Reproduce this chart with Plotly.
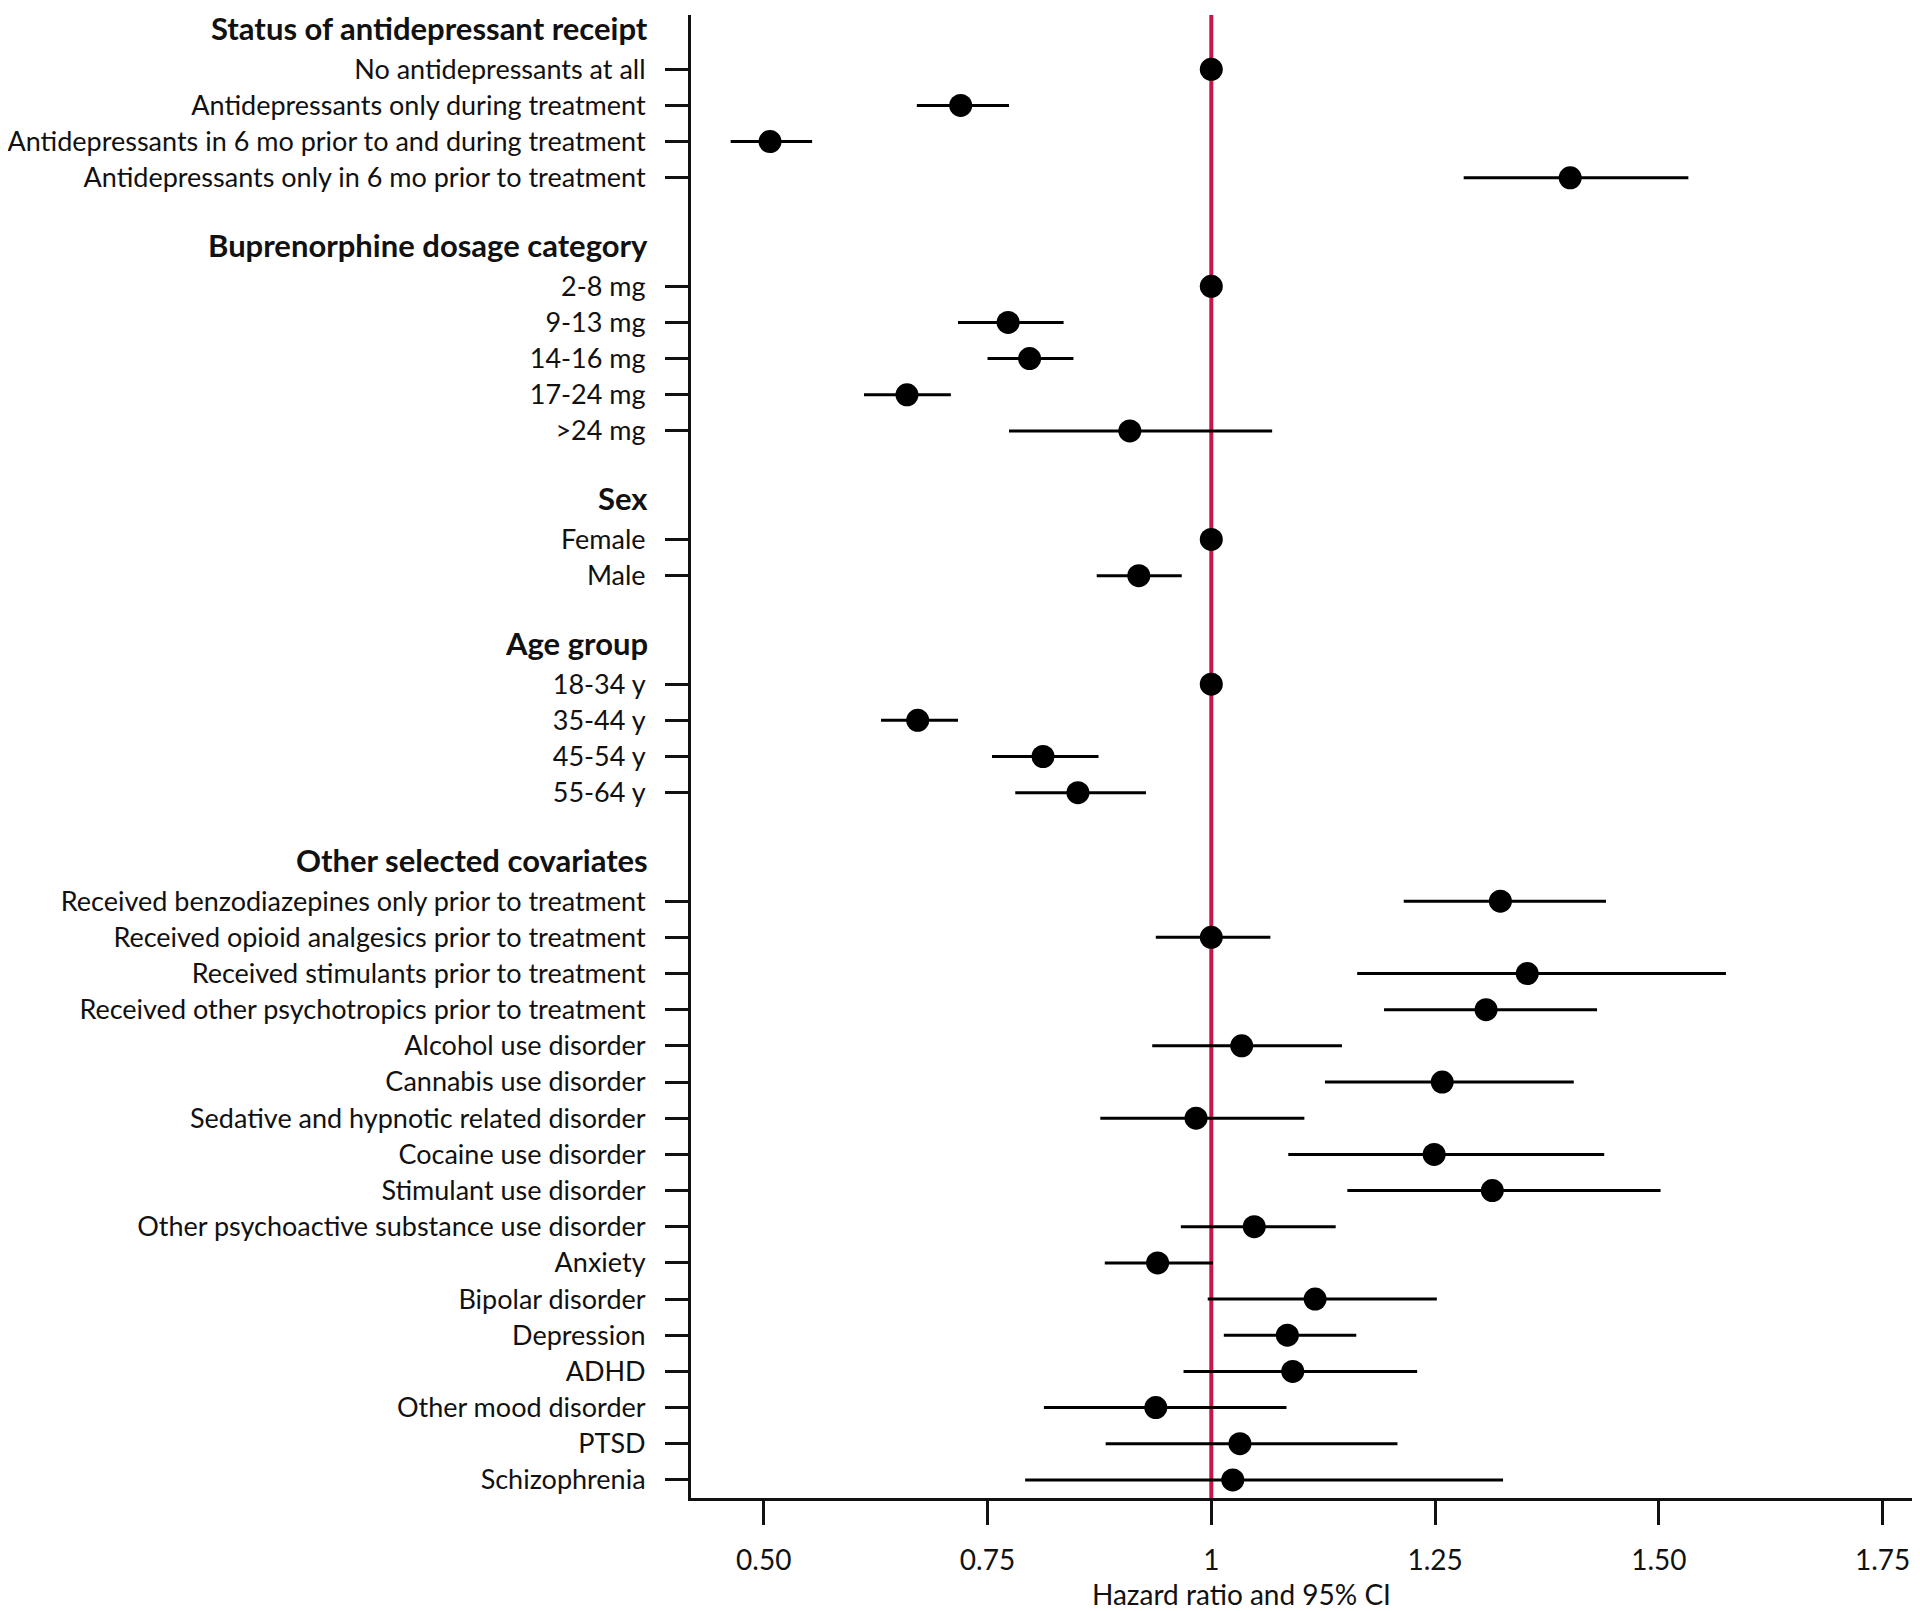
import plotly.graph_objects as go

FONT = "Lato, 'Open Sans', sans-serif"

group_titles = [
    "Status of antidepressant receipt",
    "Buprenorphine dosage category",
    "Sex",
    "Age group",
    "Other selected covariates",
]

labels = [
    ["No antidepressants at all",
     "Antidepressants only during treatment",
     "Antidepressants in 6 mo prior to and during treatment",
     "Antidepressants only in 6 mo prior to treatment"],
    ["2-8 mg", "9-13 mg", "14-16 mg", "17-24 mg", ">24 mg"],
    ["Female", "Male"],
    ["18-34 y", "35-44 y", "45-54 y", "55-64 y"],
    ["Received benzodiazepines only prior to treatment",
     "Received opioid analgesics prior to treatment",
     "Received stimulants prior to treatment",
     "Received other psychotropics prior to treatment",
     "Alcohol use disorder",
     "Cannabis use disorder",
     "Sedative and hypnotic related disorder",
     "Cocaine use disorder",
     "Stimulant use disorder",
     "Other psychoactive substance use disorder",
     "Anxiety",
     "Bipolar disorder",
     "Depression",
     "ADHD",
     "Other mood disorder",
     "PTSD",
     "Schizophrenia"],
]

hazard_ratio = [
    [1.000, 0.720, 0.507, 1.401],
    [1.000, 0.773, 0.797, 0.660, 0.909],
    [1.000, 0.919],
    [1.000, 0.672, 0.812, 0.851],
    [1.323, 1.000, 1.353, 1.307, 1.034, 1.258, 0.983, 1.249, 1.314,
     1.048, 0.940, 1.116, 1.085, 1.091, 0.938, 1.032, 1.024],
]

ci_low = [
    [1.000, 0.671, 0.463, 1.282],
    [1.000, 0.717, 0.750, 0.612, 0.774],
    [1.000, 0.872],
    [1.000, 0.631, 0.755, 0.781],
    [1.215, 0.938, 1.163, 1.193, 0.934, 1.127, 0.876, 1.086, 1.152,
     0.966, 0.881, 0.996, 1.014, 0.969, 0.813, 0.882, 0.792],
]

ci_high = [
    [1.000, 0.774, 0.554, 1.533],
    [1.000, 0.835, 0.846, 0.709, 1.068],
    [1.000, 0.967],
    [1.000, 0.717, 0.874, 0.927],
    [1.441, 1.066, 1.575, 1.431, 1.146, 1.405, 1.104, 1.439, 1.502,
     1.139, 1.002, 1.252, 1.162, 1.230, 1.084, 1.208, 1.326],
]

x_tick_vals = [0.5, 0.75, 1.0, 1.25, 1.5, 1.75]
x_tick_text = ["0.50", "0.75", "1", "1.25", "1.50", "1.75"]
x_title = "Hazard ratio and 95% CI"

# build row positions: header slot, item slots, blank slot between groups
header_pos, row_pos, row_lab, hr, lo, hi = [], [], [], [], [], []
slot = 0
for g, title in enumerate(group_titles):
    header_pos.append(slot)
    slot += 1
    for i, lab in enumerate(labels[g]):
        row_pos.append(slot)
        row_lab.append(lab)
        hr.append(hazard_ratio[g][i])
        lo.append(ci_low[g][i])
        hi.append(ci_high[g][i])
        slot += 1
    slot += 1

err_plus = [h - m for m, h in zip(hr, hi)]
err_minus = [m - l for m, l in zip(hr, lo)]

fig = go.Figure()
fig.add_trace(go.Scatter(
    x=hr, y=row_pos, mode="markers",
    marker=dict(color="black", size=23, symbol="circle"),
    error_x=dict(type="data", symmetric=False, array=err_plus,
                 arrayminus=err_minus, color="black", thickness=3, width=0),
    showlegend=False, hoverinfo="skip",
))

fig.add_shape(type="line", xref="x", yref="paper", x0=1, x1=1, y0=0, y1=1,
              line=dict(color="#c8174a", width=4), layer="below")

for t, p in zip(group_titles, header_pos):
    fig.add_annotation(text="<b>%s</b>" % t, xref="paper", yref="y",
                       x=0, y=p, xanchor="right", yanchor="middle",
                       xshift=-41, yshift=5, showarrow=False,
                       font=dict(family=FONT, size=31, color="#111"))

fig.add_annotation(text=x_title, xref="paper", yref="paper",
                   x=(1233 - 683) / 1228, y=(1490 - 1604) / 1483,
                   xanchor="center", yanchor="bottom", showarrow=False,
                   borderpad=0,
                   font=dict(family=FONT, size=28, color="#111"))

fig.update_layout(
    width=1920, height=1611,
    margin=dict(l=683, r=9, t=7, b=121, pad=0, autoexpand=False),
    plot_bgcolor="white", paper_bgcolor="white",
    font=dict(family=FONT, size=27, color="#111"),
    xaxis=dict(range=[0.4187, 1.7907], tickvals=x_tick_vals, ticktext=x_tick_text,
               ticks="outside", ticklen=24, tickwidth=3, tickcolor="#111",
               showline=True, linewidth=3, linecolor="#111", automargin=False,
               showgrid=False, zeroline=False, ticklabelstandoff=11,
               tickfont=dict(family=FONT, size=28, color="#111")),
    yaxis=dict(range=[40.5, -0.5], tickvals=row_pos, ticktext=row_lab,
               ticks="outside", ticklen=23, tickwidth=3, tickcolor="#111",
               showline=True, linewidth=3, linecolor="#111", automargin=False,
               showgrid=False, zeroline=False, ticklabelstandoff=14,
               tickfont=dict(family=FONT, size=27, color="#111")),
)

fig.write_html("out.html")
